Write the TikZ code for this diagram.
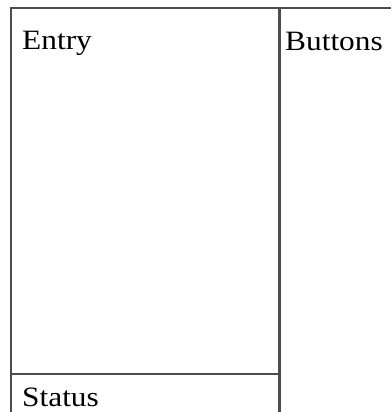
\documentclass[tikz,border=0pt]{standalone}
\usepackage{fontspec}
\setmainfont{Liberation Serif}
\begin{document}
\begin{tikzpicture}[x=1pt,y=-1pt,
  frame/.style={draw=black!70,line width=1.8pt},
  lbl/.style={anchor=base west,inner sep=0pt,font=\fontsize{28}{30}\selectfont,text=black}]
\useasboundingbox[fill=white] (0,0) rectangle (391,412);
\draw[frame] (391,8) -- (11,8) -- (11,412);
\draw[frame,line width=2.2pt] (279.5,8) -- (279.5,412);
\draw[frame] (11,374) -- (279.5,374);
\node[lbl] (entry) at (22,50) {\scalebox{1.12}[1]{Entry}};
\node[lbl] (buttons) at (285,51) {\scalebox{1.12}[1]{Buttons}};
\node[lbl] (status) at (22,406) {\scalebox{1.12}[1]{Status}};
\end{tikzpicture}
\end{document}
